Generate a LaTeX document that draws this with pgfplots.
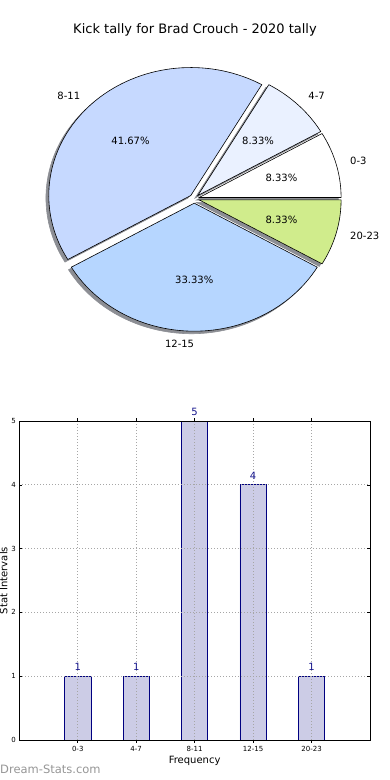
\documentclass[border=0pt]{standalone}
\usepackage{fontspec}
\setmainfont{DejaVu Sans}
\usepackage{pgfplots}
\usepackage{pgfplotstable}
\pgfplotsset{compat=1.18}
\definecolor{cA}{RGB}{255,255,255}
\definecolor{cB}{RGB}{234,241,255}
\definecolor{cC}{RGB}{198,217,255}
\definecolor{cD}{RGB}{182,214,255}
\definecolor{cE}{RGB}{208,236,140}
\definecolor{shadowc}{RGB}{140,142,148}
\definecolor{barfill}{RGB}{204,204,230}
\definecolor{baredge}{RGB}{0,0,128}
\definecolor{navyc}{RGB}{20,20,140}
\definecolor{wmark}{RGB}{150,150,150}

\pgfplotstableread{
label count
0-3 1
4-7 1
8-11 5
12-15 4
20-23 1
}\datatable

\pgfplotstablegetelem{0}{count}\of\datatable \let\nA\pgfplotsretval
\pgfplotstablegetelem{1}{count}\of\datatable \let\nB\pgfplotsretval
\pgfplotstablegetelem{2}{count}\of\datatable \let\nC\pgfplotsretval
\pgfplotstablegetelem{3}{count}\of\datatable \let\nD\pgfplotsretval
\pgfplotstablegetelem{4}{count}\of\datatable \let\nE\pgfplotsretval
\pgfplotstablegetelem{0}{label}\of\datatable \let\lA\pgfplotsretval
\pgfplotstablegetelem{1}{label}\of\datatable \let\lB\pgfplotsretval
\pgfplotstablegetelem{2}{label}\of\datatable \let\lC\pgfplotsretval
\pgfplotstablegetelem{3}{label}\of\datatable \let\lD\pgfplotsretval
\pgfplotstablegetelem{4}{label}\of\datatable \let\lE\pgfplotsretval
\pgfmathsetmacro\tot{\nA+\nB+\nC+\nD+\nE}

\newcommand\defslice[3]{% name, start, count
  \pgfmathsetmacro\tmpS{#2}
  \pgfmathsetmacro\tmpE{#2+360*#3/\tot}
  \pgfmathsetmacro\tmpM{(\tmpS+\tmpE)/2}
  \expandafter\xdef\csname s#1\endcsname{\tmpS}
  \expandafter\xdef\csname e#1\endcsname{\tmpE}
  \pgfmathsetmacro\tmp{0.035*cos(\tmpM)}\expandafter\xdef\csname x#1\endcsname{\tmp}
  \pgfmathsetmacro\tmp{0.035*sin(\tmpM)}\expandafter\xdef\csname y#1\endcsname{\tmp}
  \pgfmathsetmacro\tmp{0.035*cos(\tmpM)-0.02}\expandafter\xdef\csname sx#1\endcsname{\tmp}
  \pgfmathsetmacro\tmp{0.035*sin(\tmpM)-0.02}\expandafter\xdef\csname sy#1\endcsname{\tmp}
  \pgfmathsetmacro\tmp{0.035*cos(\tmpM)+1.1*cos(\tmpM)}\expandafter\xdef\csname lx#1\endcsname{\tmp}
  \pgfmathsetmacro\tmp{0.035*sin(\tmpM)+1.1*sin(\tmpM)}\expandafter\xdef\csname ly#1\endcsname{\tmp}
  \pgfmathsetmacro\tmp{0.035*cos(\tmpM)+0.6*cos(\tmpM)}\expandafter\xdef\csname px#1\endcsname{\tmp}
  \pgfmathsetmacro\tmp{0.035*sin(\tmpM)+0.6*sin(\tmpM)}\expandafter\xdef\csname py#1\endcsname{\tmp}
  \pgfmathsetmacro\tmp{100*#3/\tot}\expandafter\xdef\csname pc#1\endcsname{\tmp}
}
\defslice{A}{0}{\nA}
\defslice{B}{\eA}{\nB}
\defslice{C}{\eB}{\nC}
\defslice{D}{\eC}{\nD}
\defslice{E}{\eD}{\nE}

\newcommand\drawslice[1]{%
  \addplot[draw=shadowc, fill=shadowc, line width=0.6pt, domain=\csname s#1\endcsname:\csname e#1\endcsname, samples=72, variable=\t]
    ({\csname sx#1\endcsname+cos(\t)},{\csname sy#1\endcsname+sin(\t)}) -- (axis cs:\csname sx#1\endcsname,\csname sy#1\endcsname) -- cycle;
  \addplot[draw=black, fill=c#1, line width=0.6pt, domain=\csname s#1\endcsname:\csname e#1\endcsname, samples=72, variable=\t]
    ({\csname x#1\endcsname+cos(\t)},{\csname y#1\endcsname+sin(\t)}) -- (axis cs:\csname x#1\endcsname,\csname y#1\endcsname) -- cycle;
}
\newcommand\pielabels[2]{% name, anchor
  \node[anchor=#2, inner sep=0pt, font=\fontsize{10}{12}\selectfont] at (axis cs:\csname lx#1\endcsname,\csname ly#1\endcsname) {\csname l#1\endcsname};
  \node[anchor=center, inner sep=0pt, font=\fontsize{10}{12}\selectfont] at (axis cs:\csname px#1\endcsname,\csname py#1\endcsname) {\pgfmathprintnumber[fixed,fixed zerofill,precision=2,assume math mode=true]{\csname pc#1\endcsname}\%};
}

\begin{document}
\begin{tikzpicture}[x=1pt,y=1pt]
\clip (0,0) rectangle (390,780);
\path[use as bounding box] (0,0) rectangle (390,780);
\node[anchor=base, inner sep=0pt, font=\fontsize{13}{15}\selectfont] at (195,746.5) {Kick tally for Brad Crouch - 2020 tally};

\begin{axis}[at={(194.3pt,581.3pt)}, anchor=center, scale only axis,
  width=284pt, height=256pt, xmin=-1, xmax=1, ymin=-1, ymax=1,
  hide axis, clip=false]
\drawslice{A}
\drawslice{B}
\drawslice{C}
\drawslice{D}
\drawslice{E}
\pielabels{A}{west}
\pielabels{B}{west}
\pielabels{C}{east}
\pielabels{D}{east}
\pielabels{E}{west}
\end{axis}

\begin{axis}[at={(19.3pt,40pt)}, anchor=south west, scale only axis,
  width=350.7pt, height=319pt,
  xmin=-1, xmax=5, ymin=0, ymax=5,
  ytick={0,1,2,3,4,5}, xtick={0,1,2,3,4},
  xticklabels from table={\datatable}{label},
  ybar, bar width=0.45,
  grid=major, grid style={black!35, dash pattern=on 0.8pt off 2.2pt, line width=0.8pt},
  axis on top,
  axis line style={line width=0.8pt},
  tick style={black, line width=0.6pt}, major tick length=3pt,
  tick label style={font=\fontsize{7}{8}\selectfont},
  /pgf/number format/assume math mode=true,
  nodes near coords,
  nodes near coords style={font=\fontsize{10}{12}\selectfont, text=navyc, anchor=south, inner sep=0pt, yshift=5pt},
  xlabel={Frequency}, ylabel={Stat Intervals},
  every axis x label/.style={at={(axis description cs:0.5,0)}, anchor=base, yshift=-23.5pt, font=\fontsize{10}{12}\selectfont},
  every axis y label/.style={at={(axis description cs:-0.034,0.5)}, anchor=base, rotate=90, font=\fontsize{10}{12}\selectfont},
]
\addplot[fill=barfill, draw=baredge, line width=0.7pt] table[x expr=\coordindex, y=count]{\datatable};
\end{axis}

\node[anchor=base west, inner sep=0pt, font=\fontsize{11.5}{14}\selectfont, text=wmark] at (0,6.5) {Dream-Stats.com};
\end{tikzpicture}
\end{document}
